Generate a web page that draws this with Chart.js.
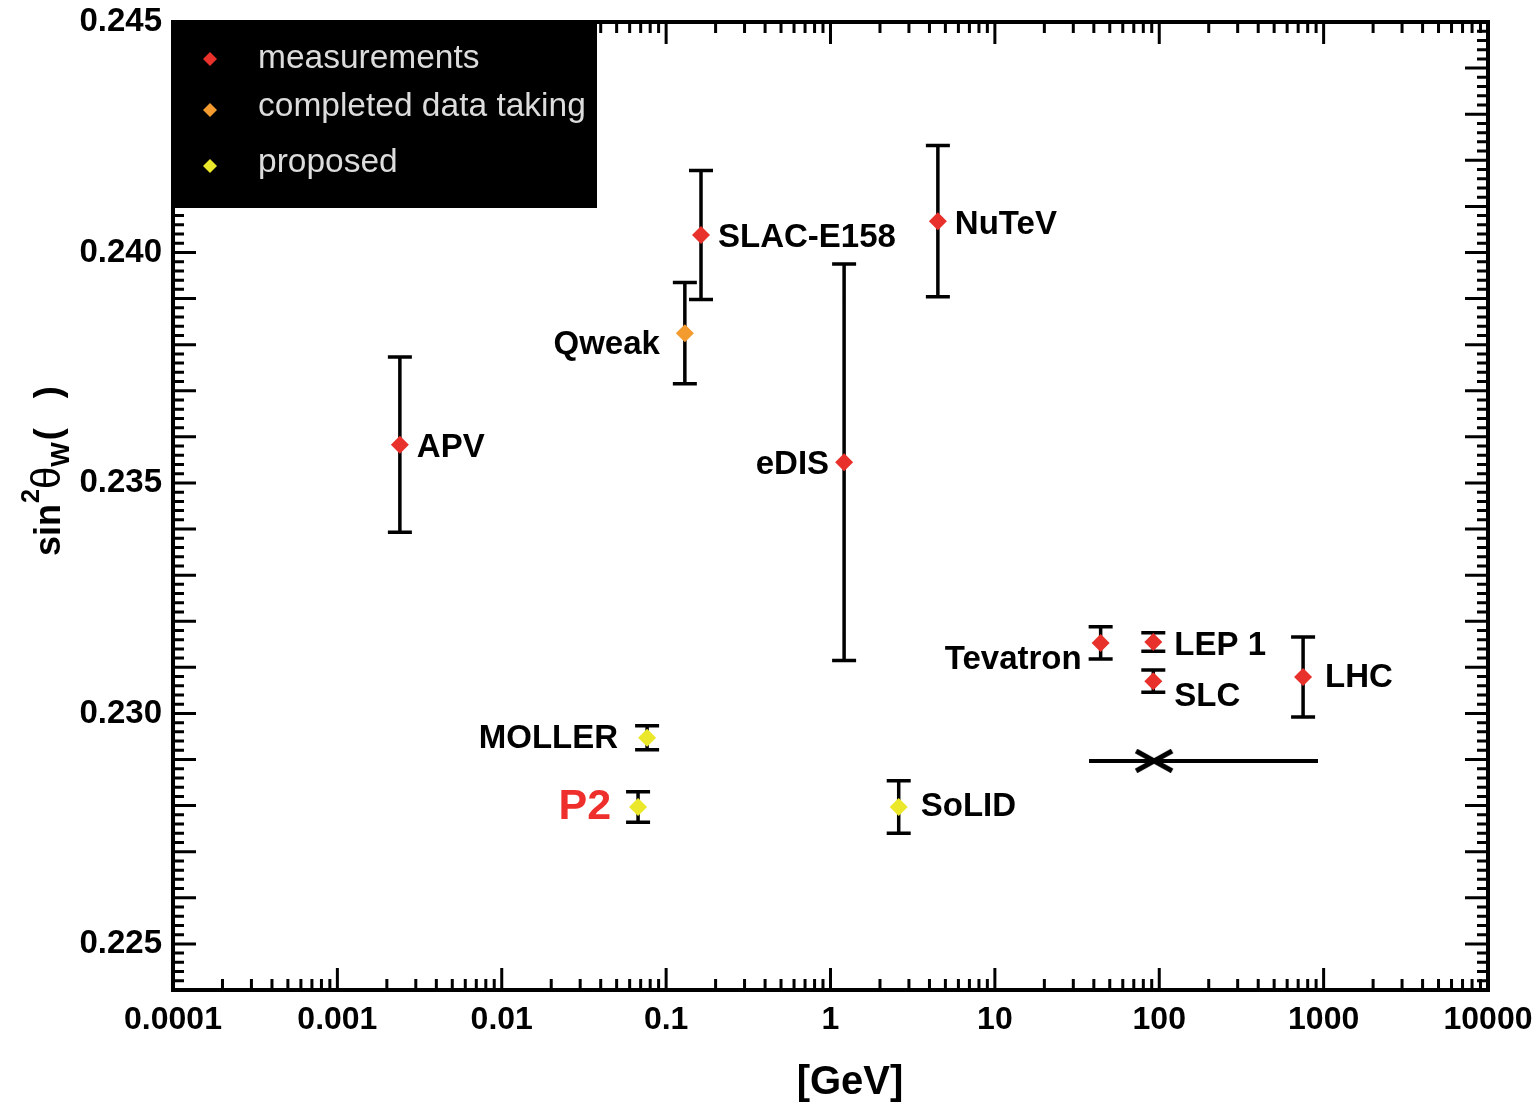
<!DOCTYPE html>
<html>
<head>
<meta charset="utf-8">
<script src="https://cdn.jsdelivr.net/npm/chart.js@4.4.1/dist/chart.umd.min.js"></script>
<style>
  html, body { margin: 0; padding: 0; background: #fff; }
</style>
</head>
<body>
<canvas id="myChart" width="1538" height="1107"></canvas>
<script>
// experiments, energy scale [GeV], sin^2(theta_W) and its error
const names   = ['APV', 'Qweak', 'SLAC-E158', 'eDIS', 'NuTeV', 'Tevatron', 'LEP 1', 'SLC', 'LHC', 'MOLLER', 'P2', 'SoLID'];
const energy  = [0.0024, 0.13, 0.163, 1.21, 4.5, 44, 92, 92, 750, 0.0766, 0.0675, 2.6];
const sin2w   = [0.23583, 0.23825, 0.24038, 0.23545, 0.24068, 0.23153, 0.23155, 0.23070, 0.23079, 0.22947, 0.22797, 0.22797];
const sin2err = [0.0019, 0.0011, 0.0014, 0.0043, 0.00164, 0.00035, 0.0002, 0.00024, 0.00087, 0.00026, 0.00033, 0.00057];
const status  = [0, 1, 0, 0, 0, 0, 0, 0, 0, 2, 2, 2];

const statusNames  = ['measurements', 'completed data taking', 'proposed'];
const statusColors = ['#e8312b', '#f39b2f', '#ebe82c'];

// horizontal range line with the cross marker
const rangeX = [37.4, 93, 924];
const rangeY = [0.22897, 0.22897, 0.22897];

const xTicks = [0.0001, 0.001, 0.01, 0.1, 1, 10, 100, 1000, 10000];
const xTickLabels = ['0.0001', '0.001', '0.01', '0.1', '1', '10', '100', '1000', '10000'];
const yTicks = [0.225, 0.230, 0.235, 0.240, 0.245];
const yTickLabels = ['0.225', '0.230', '0.235', '0.240', '0.245'];

const FONT = "'Liberation Sans', Arial, Helvetica, sans-serif";

// where each name sits next to its point: dx, dy, align
const labelPlace = {
    'APV': [17, 3, 'left'],
    'Qweak': [-25, 12, 'right'],
    'SLAC-E158': [17, 3, 'left'],
    'eDIS': [-15, 3, 'right'],
    'NuTeV': [17, 4, 'left'],
    'Tevatron': [-19, 17, 'right'],
    'LEP 1': [21, 4, 'left'],
    'SLC': [21, 16, 'left'],
    'LHC': [22, 1, 'left'],
    'MOLLER': [-29, 1, 'right'],
    'P2': [-27, 0, 'right'],
    'SoLID': [22, 0, 'left']
};

// flattened X marker for the range line
const crossMark = document.createElement('canvas');
crossMark.width = 40;
crossMark.height = 24;
(function () {
    let c = crossMark.getContext('2d');
    c.strokeStyle = '#000';
    c.lineWidth = 5;
    c.beginPath();
    c.moveTo(2, 2); c.lineTo(38, 22);
    c.moveTo(2, 22); c.lineTo(38, 2);
    c.stroke();
})();

let datasets = statusNames.map((s, k) => ({
    label: s,
    data: names.map((n, i) => ({ x: energy[i], y: sin2w[i], i: i })).filter(p => status[p.i] === k),
    pointStyle: 'rectRot',
    pointRadius: 9,
    backgroundColor: statusColors[k],
    borderWidth: 0,
    showLine: false
}));
datasets.push({
    label: 'range',
    type: 'line',
    data: rangeX.map((v, i) => ({ x: v, y: rangeY[i] })),
    borderColor: '#000',
    borderWidth: 4,
    pointRadius: ctx => ctx.dataIndex === 1 ? 12 : 0,
    pointStyle: ctx => ctx.dataIndex === 1 ? crossMark : 'circle',
    showLine: true,
    fill: false
});

const framePlugin = {
    id: 'frame',
    beforeDatasetsDraw(chart) {
        const { ctx, chartArea: a, scales: { x, y } } = chart;
        ctx.save();
        ctx.strokeStyle = '#000';
        ctx.lineWidth = 3;
        ctx.beginPath();
        for (let k = 0; k <= 105; k++) {
            let py = y.getPixelForValue(0.224 + k * 0.0002);
            let len = k % 5 === 0 ? 23 : 11;
            ctx.moveTo(a.left, py); ctx.lineTo(a.left + len, py);
            ctx.moveTo(a.right, py); ctx.lineTo(a.right - len, py);
        }
        for (let d = -4; d <= 4; d++) {
            for (let m = 1; m <= 9; m++) {
                let v = m * Math.pow(10, d);
                if (v > 10000) break;
                let px = x.getPixelForValue(v);
                let len = m === 1 ? 22 : 11;
                ctx.moveTo(px, a.bottom); ctx.lineTo(px, a.bottom - len);
                ctx.moveTo(px, a.top); ctx.lineTo(px, a.top + len);
            }
        }
        ctx.stroke();
        ctx.lineWidth = 4;
        ctx.strokeRect(a.left, a.top, a.right - a.left, a.bottom - a.top);

        // error bars
        ctx.lineWidth = 3.5;
        ctx.beginPath();
        names.forEach((n, i) => {
            let px = x.getPixelForValue(energy[i]);
            let t = y.getPixelForValue(sin2w[i] + sin2err[i]);
            let b = y.getPixelForValue(sin2w[i] - sin2err[i]);
            ctx.moveTo(px, t); ctx.lineTo(px, b);
            ctx.moveTo(px - 12, t); ctx.lineTo(px + 12, t);
            ctx.moveTo(px - 12, b); ctx.lineTo(px + 12, b);
        });
        ctx.stroke();
        ctx.restore();
    },
    afterDatasetsDraw(chart) {
        const { ctx, chartArea: a, scales: { x, y } } = chart;
        ctx.save();
        // names beside the points
        ctx.textBaseline = 'middle';
        names.forEach((n, i) => {
            let p = labelPlace[n];
            ctx.textAlign = p[2];
            if (n === 'P2') {
                ctx.fillStyle = '#ee2f2b';
                ctx.font = 'bold 43px ' + FONT;
            } else {
                ctx.fillStyle = '#000';
                ctx.font = 'bold 33px ' + FONT;
            }
            ctx.fillText(n, x.getPixelForValue(energy[i]) + p[0], y.getPixelForValue(sin2w[i]) + p[1]);
        });

        // legend box in the top left corner
        ctx.fillStyle = '#000';
        ctx.fillRect(a.left - 1, a.top, 425, 186);
        let rows = [37, 88, 144];
        let textRows = [37, 85, 141];
        statusNames.forEach((s, k) => {
            let cx = a.left + 37, cy = a.top + rows[k];
            ctx.fillStyle = statusColors[k];
            ctx.beginPath();
            ctx.moveTo(cx, cy - 7); ctx.lineTo(cx + 7, cy); ctx.lineTo(cx, cy + 7); ctx.lineTo(cx - 7, cy);
            ctx.closePath();
            ctx.fill();
            ctx.fillStyle = '#dcdcdc';
            ctx.font = '33.5px ' + FONT;
            ctx.textAlign = 'left';
            ctx.fillText(s, a.left + 85, a.top + textRows[k]);
        });

        // x title
        ctx.fillStyle = '#000';
        ctx.textAlign = 'center';
        ctx.font = 'bold 40px ' + FONT;
        ctx.fillText('[GeV]', 850, 1083);

        // y title: sin^2 theta_W( )
        ctx.translate(60, 556);
        ctx.rotate(-Math.PI / 2);
        ctx.textAlign = 'left';
        ctx.textBaseline = 'alphabetic';
        let cx = 0;
        const part = (t, font, dy, gap) => {
            ctx.font = font;
            ctx.fillText(t, cx, dy);
            cx += ctx.measureText(t).width + (gap || 0);
        };
        part('sin', 'bold 36px ' + FONT, 0, 1);
        part('2', 'bold 25px ' + FONT, -21, 0);
        part('\u03b8', '40px ' + FONT, 0, 0);
        part('W', 'bold 26px ' + FONT, 9, 2);
        part('(', 'bold 36px ' + FONT, 0, 30);
        part(')', 'bold 36px ' + FONT, 0, 0);
        ctx.restore();
    }
};

new Chart(document.getElementById('myChart'), {
    type: 'scatter',
    data: { datasets: datasets },
    options: {
        responsive: false,
        animation: false,
        devicePixelRatio: 1,
        events: [],
        layout: { padding: { top: 22, right: 50, left: 0, bottom: 0 } },
        plugins: { legend: { display: false }, tooltip: { enabled: false } },
        scales: {
            x: {
                type: 'logarithmic',
                position: 'bottom',
                min: 0.0001,
                max: 10000,
                grid: { display: false, drawTicks: false },
                border: { display: false },
                afterBuildTicks: s => { s.ticks = xTicks.map(v => ({ value: v, major: true })); },
                afterFit: s => {
                    s.height = 117;
                    s.paddingLeft = 0;
                    s.paddingRight = 0;
                },
                ticks: {
                    autoSkip: false,
                    maxRotation: 0,
                    padding: 11,
                    color: '#000',
                    font: { family: FONT, size: 32, weight: 'bold' },
                    callback: (v, i) => xTickLabels[i]
                }
            },
            y: {
                type: 'linear',
                min: 0.224,
                max: 0.245,
                grid: { display: false, drawTicks: false },
                border: { display: false },
                afterBuildTicks: s => { s.ticks = yTicks.map(v => ({ value: v })); },
                afterFit: s => {
                    s.width = 173;
                    s.paddingTop = 0;
                    s.paddingBottom = 0;
                },
                ticks: {
                    padding: 11,
                    color: '#000',
                    font: { family: FONT, size: 33, weight: 'bold' },
                    callback: (v, i) => yTickLabels[i]
                }
            }
        }
    },
    plugins: [framePlugin]
});
</script>
</body>
</html>
